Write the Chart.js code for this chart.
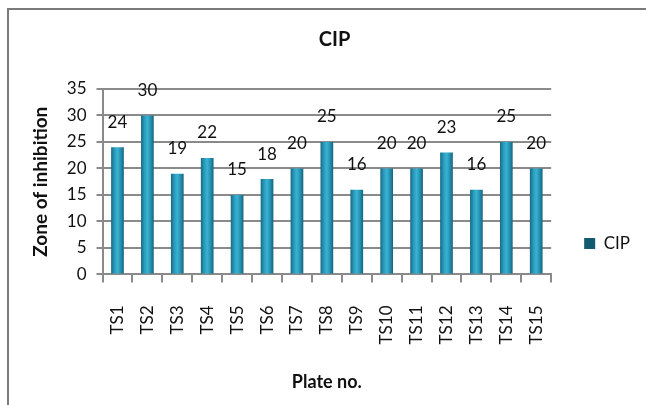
<!DOCTYPE html>
<html>
<head>
<meta charset="utf-8">
<script src="https://cdn.jsdelivr.net/npm/chart.js@4.4.0/dist/chart.umd.min.js"></script>
<style>
  html, body { margin: 0; padding: 0; background: #fff; }
  #wrap { position: relative; width: 646px; height: 405px; overflow: hidden; }
  #frame { position: absolute; left: 7px; top: 8px; width: 700px; height: 500px;
           border-top: 2px solid #7a7a7a; border-left: 2px solid #7a7a7a; }
  #c { position: absolute; left: 0; top: 0; }
</style>
</head>
<body>
<div id="wrap">
  <div id="frame"></div>
  <canvas id="c" width="646" height="405"></canvas>
</div>
<script>
// dados do grafico
const plates = ['TS1','TS2','TS3','TS4','TS5','TS6','TS7','TS8','TS9','TS10','TS11','TS12','TS13','TS14','TS15'];
const cipZone = [24, 30, 19, 22, 15, 18, 20, 25, 16, 20, 20, 23, 16, 25, 20];
const yTicks = [0, 5, 10, 15, 20, 25, 30, 35];

const fontFamily = 'Lato, "Open Sans", sans-serif';

// cor das barras com efeito de cilindro
function barColor(c) {
  const chart = c.chart;
  const xs = chart.scales.x;
  if (!xs || !chart.chartArea || c.dataIndex === undefined) return '#2795b4';
  const cx = xs.getPixelForValue(c.dataIndex);
  const g = chart.ctx.createLinearGradient(cx - 7, 0, cx + 7, 0);
  g.addColorStop(0, '#15607a');
  g.addColorStop(0.3, '#2a9cbd');
  g.addColorStop(0.5, '#3ab2d2');
  g.addColorStop(0.75, '#238eae');
  g.addColorStop(1, '#135a70');
  return g;
}

// rotulos em cima das barras
const barLabels = {
  id: 'barLabels',
  afterDatasetsDraw(chart) {
    const ctx = chart.ctx;
    const meta = chart.getDatasetMeta(0);
    ctx.save();
    ctx.font = '17px ' + fontFamily;
    ctx.fillStyle = '#111';
    ctx.textAlign = 'center';
    ctx.textBaseline = 'middle';
    meta.data.forEach((bar, i) => {
      ctx.fillText(String(cipZone[i]), bar.x, bar.y - 25);
    });
    ctx.restore();
  }
};

const ctx = document.getElementById('c').getContext('2d');
new Chart(ctx, {
  type: 'bar',
  data: {
    labels: plates,
    datasets: [{
      label: 'CIP',
      data: cipZone,
      backgroundColor: barColor,
      borderWidth: 0,
      barPercentage: 0.85,
      categoryPercentage: 0.5
    }]
  },
  options: {
    responsive: false,
    animation: false,
    layout: { padding: { left: 29, right: 6, top: 28, bottom: 12 } },
    plugins: {
      title: {
        display: true,
        text: 'CIP',
        color: '#111',
        font: { family: fontFamily, size: 20, weight: 'bold' },
        padding: { top: 0, bottom: 37 }
      },
      legend: {
        position: 'right',
        title: { display: true, text: ' ', font: { size: 10 }, padding: { top: 54, bottom: 0 } },
        labels: {
          color: '#111',
          font: { family: fontFamily, size: 17 },
          boxWidth: 11,
          boxHeight: 11,
          padding: 33
        }
      },
      tooltip: { enabled: false }
    },
    scales: {
      x: {
        grid: { drawOnChartArea: false, color: '#8a8a8a', lineWidth: 2, tickLength: 8 },
        border: { color: '#8a8a8a', width: 2 },
        ticks: {
          color: '#111',
          font: { family: fontFamily, size: 17 },
          minRotation: 90,
          maxRotation: 90,
          padding: 23
        },
        title: {
          display: true,
          text: 'Plate no.',
          color: '#111',
          font: { family: fontFamily, size: 18, weight: 'bold' },
          padding: { top: 4, bottom: 0 }
        }
      },
      y: {
        min: 0,
        max: 35,
        afterBuildTicks(axis) { axis.ticks = yTicks.map(v => ({ value: v })); },
        grid: { color: '#8a8a8a', lineWidth: 2, tickLength: 6 },
        border: { color: '#8a8a8a', width: 2 },
        ticks: {
          color: '#111',
          font: { family: fontFamily, size: 17 },
          padding: 10
        },
        title: {
          display: true,
          text: 'Zone of inhibition',
          color: '#111',
          font: { family: fontFamily, size: 19, weight: 'bold' },
          padding: { top: 0, bottom: 5 }
        }
      }
    }
  },
  plugins: [barLabels]
});
</script>
</body>
</html>
